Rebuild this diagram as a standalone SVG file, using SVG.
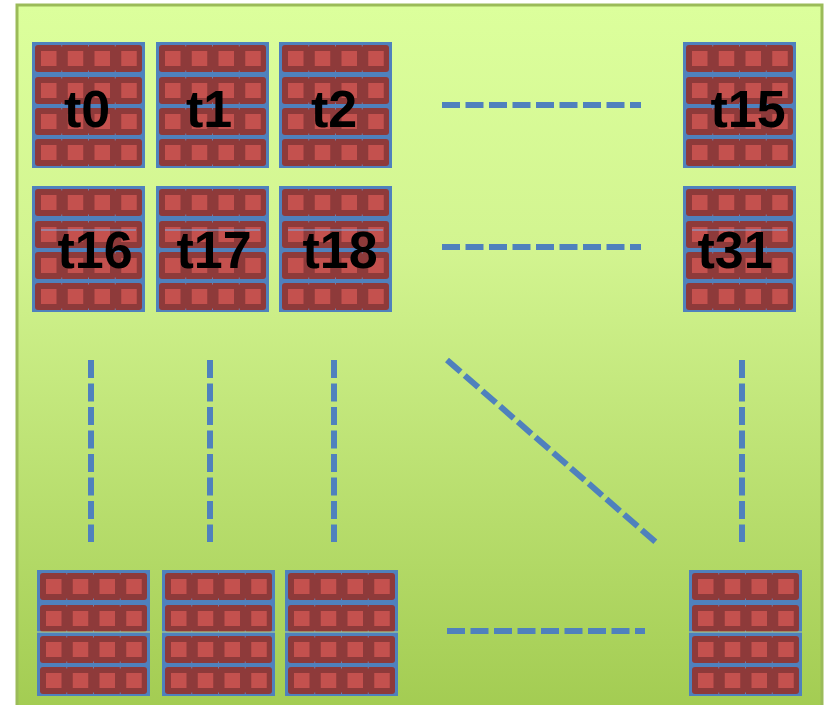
<svg xmlns="http://www.w3.org/2000/svg" xmlns:xlink="http://www.w3.org/1999/xlink" width="828" height="705" viewBox="0 0 828 705">
<defs>
<linearGradient id="bg" x1="0" y1="0" x2="0" y2="1">
<stop offset="0" stop-color="#dcff9c"/>
<stop offset="0.35" stop-color="#d2f490"/>
<stop offset="1" stop-color="#a3cc52"/>
</linearGradient>
<g id="row">
<rect x="0" y="0" width="107" height="27" rx="3" fill="#8e3a3a"/>
<g fill="#c4514e">
<rect x="6" y="6" width="15.5" height="15"/>
<rect x="32.75" y="6" width="15.5" height="15"/>
<rect x="59.5" y="6" width="15.5" height="15"/>
<rect x="86.25" y="6" width="15.5" height="15"/>
</g>
<g stroke="#6f8fc0" stroke-width="0.8">
<line x1="26.75" y1="0" x2="26.75" y2="1.5"/><line x1="53.5" y1="0" x2="53.5" y2="1.5"/><line x1="80.25" y1="0" x2="80.25" y2="1.5"/>
<line x1="26.75" y1="25.5" x2="26.75" y2="27"/><line x1="53.5" y1="25.5" x2="53.5" y2="27"/><line x1="80.25" y1="25.5" x2="80.25" y2="27"/>
</g>
</g>
<g id="block">
<rect x="0" y="0" width="113" height="126" fill="#4f81bd"/>
<use xlink:href="#row" x="3" y="3"/>
<use xlink:href="#row" x="3" y="35"/>
<use xlink:href="#row" x="3" y="66"/>
<use xlink:href="#row" x="3" y="97"/>
</g>
</defs>
<style>
.lbl{font-family:"Liberation Sans",Arial,sans-serif;font-weight:bold;font-size:52px;fill:#000;text-anchor:middle}
.dash{stroke:#4f81bd;stroke-width:6;fill:none;stroke-dasharray:18 5.5}
.hl{stroke:#7aaee6;stroke-width:1.2}
.split{stroke:#b9dc8c;stroke-width:1}
</style>
<rect x="17" y="5" width="805" height="705" fill="url(#bg)" stroke="#9bbb59" stroke-width="3"/>

<g id="t0"><use xlink:href="#block" x="32" y="42"/><text class="lbl" x="87" y="127">t0</text></g>
<g id="t1"><use xlink:href="#block" x="156" y="42"/><text class="lbl" x="209" y="127">t1</text></g>
<g id="t2"><use xlink:href="#block" x="279" y="42"/><text class="lbl" x="334" y="127">t2</text></g>
<g id="t15"><use xlink:href="#block" x="683" y="42"/><text class="lbl" x="748" y="127">t15</text></g>

<g id="t16"><use xlink:href="#block" x="32" y="186"/><line class="hl" x1="41" y1="230" x2="136" y2="230"/><text class="lbl" x="95" y="268">t16</text></g>
<g id="t17"><use xlink:href="#block" x="156" y="186"/><line class="hl" x1="165" y1="230" x2="260" y2="230"/><text class="lbl" x="214" y="268">t17</text></g>
<g id="t18"><use xlink:href="#block" x="279" y="186"/><line class="hl" x1="288" y1="230" x2="383" y2="230"/><text class="lbl" x="340" y="268">t18</text></g>
<g id="t31"><use xlink:href="#block" x="683" y="186"/><line class="hl" x1="692" y1="230" x2="787" y2="230"/><text class="lbl" x="735" y="268">t31</text></g>

<g id="b0"><use xlink:href="#block" x="37" y="570"/><line class="split" x1="37" y1="632" x2="150" y2="632"/></g>
<g id="b1"><use xlink:href="#block" x="162" y="570"/><line class="split" x1="162" y1="632" x2="275" y2="632"/></g>
<g id="b2"><use xlink:href="#block" x="285" y="570"/><line class="split" x1="285" y1="632" x2="398" y2="632"/></g>
<g id="b3"><use xlink:href="#block" x="689" y="570"/><line class="split" x1="689" y1="632" x2="802" y2="632"/></g>

<g id="connectors">
<line class="dash" x1="442" y1="105" x2="641" y2="105"/>
<line class="dash" x1="442" y1="247" x2="641" y2="247"/>
<line class="dash" x1="447" y1="631" x2="645" y2="631"/>
<line class="dash" x1="91" y1="360" x2="91" y2="542"/>
<line class="dash" x1="210" y1="360" x2="210" y2="542"/>
<line class="dash" x1="334" y1="360" x2="334" y2="542"/>
<line class="dash" x1="742" y1="360" x2="742" y2="542"/>
<line class="dash" x1="447" y1="360" x2="659" y2="545"/>
</g>
</svg>
